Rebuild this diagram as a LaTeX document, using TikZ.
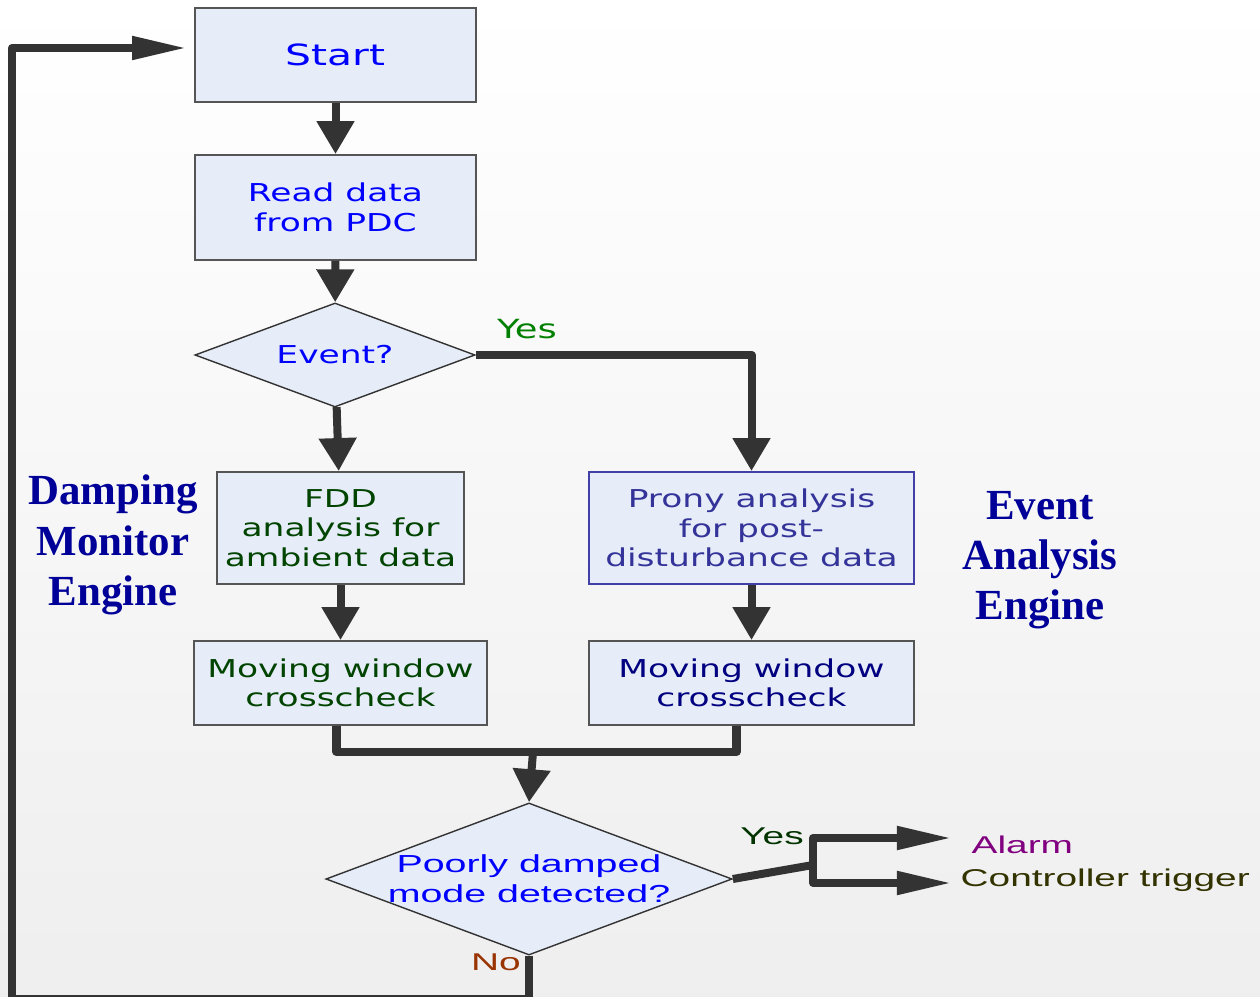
\documentclass[tikz,border=0pt]{standalone}
\usepackage{fontspec}
\usepackage{tikz}
\usetikzlibrary{shapes.geometric,arrows.meta}
\setmainfont{Liberation Serif}
\newfontfamily\wideface[FakeStretch=1.4]{DejaVu Sans}
\newfontfamily\arialface[FakeStretch=1.6]{Liberation Sans}
\definecolor{FlowFill}{HTML}{E6EDF8}
\definecolor{FlowLine}{HTML}{333333}
\definecolor{BoxEdge}{HTML}{555555}
\definecolor{ProEdge}{HTML}{4040A8}
\definecolor{TxtBlue}{HTML}{0000FF}
\definecolor{TxtGreen}{HTML}{004400}
\definecolor{TxtSlate}{HTML}{333399}
\definecolor{TxtNavy}{HTML}{000080}
\definecolor{YesGreen}{HTML}{008000}
\definecolor{YesDark}{HTML}{003300}
\definecolor{NoRust}{HTML}{993300}
\definecolor{AlarmPurple}{HTML}{800080}
\definecolor{TrigOlive}{HTML}{333300}
\definecolor{EngineNavy}{HTML}{000099}

\begin{document}
\begin{tikzpicture}[x=0.01cm,y=-0.01cm,
  box/.style={draw=BoxEdge,fill=FlowFill,line width=0.5pt,align=center,inner sep=0pt,
    font=\wideface\fontsize{7}{8.4}\selectfont},
  decision/.style={diamond,draw=black!80,fill=FlowFill,line width=0.4pt,inner sep=0pt},
  dtext/.style={align=center,inner sep=0pt,text=TxtBlue},
  conn/.style={draw=FlowLine,line width=0.08cm,line join=round},
  down/.style={conn,-{Triangle[width=0.36cm,length=0.33cm]}},
  side/.style={conn,-{Triangle[width=0.22cm,length=0.55cm]}},
  tag/.style={inner sep=0pt,font=\arialface\fontsize{6.9}{8.2}\selectfont},
  engine/.style={align=center,text=EngineNavy,font=\bfseries\fontsize{12.2}{14.3}\selectfont}]
  % background
  \shade[top color=white,middle color=white,bottom color=gray!13] (0,0) rectangle (1260,997);
  \useasboundingbox (0,0) rectangle (1260,997);

  % boxes
  \node[box,minimum width=2.81cm,minimum height=0.94cm,text=TxtBlue,
    font=\wideface\fontsize{8.3}{10}\selectfont] (start) at (335.5,55) {Start};
  \node[box,minimum width=2.81cm,minimum height=1.05cm,text=TxtBlue] (read) at (335.5,207.5) {Read data\\from PDC};
  \node[decision,minimum width=2.8cm,minimum height=1.04cm,
    label={[dtext,font=\wideface\fontsize{7}{8.4}\selectfont]center:Event?}] (event) at (335,355) {};
  \node[box,minimum width=2.47cm,minimum height=1.12cm,text=TxtGreen] (fdd) at (340.5,528) {FDD\\analysis for\\ambient data};
  \node[box,draw=ProEdge,minimum width=3.25cm,minimum height=1.12cm,text=TxtSlate] (prony) at (751.5,528) {Prony analysis\\for post-\\disturbance data};
  \node[box,minimum width=2.93cm,minimum height=0.84cm,text=TxtGreen] (movl) at (340.5,683) {Moving window\\crosscheck};
  \node[box,minimum width=3.25cm,minimum height=0.84cm,text=TxtNavy] (movr) at (751.5,683) {Moving window\\crosscheck};
  \node[decision,minimum width=4.06cm,minimum height=1.52cm,
    label={[dtext,font=\arialface\fontsize{7}{8.5}\selectfont]center:Poorly damped\\mode detected?}] (poor) at (529,879) {};

  % labels
  \node[tag,text=YesGreen,font=\wideface\fontsize{7.5}{9}\selectfont] (yes1) at (527,329) {Yes};
  \node[tag,text=YesDark] (yes2) at (772,836) {Yes};
  \node[tag,text=NoRust] (no) at (496,962) {No};
  \node[tag,text=AlarmPurple,anchor=west] (alarm) at (971,845) {Alarm};
  \node[tag,text=TrigOlive,anchor=west] (trig) at (960,880) {Controller trigger};
  \node[engine] (dme) at (113,545) {Damping\\Monitor\\Engine};
  \node[engine] (eae) at (1040,560) {Event\\Analysis\\Engine};

  % connectors
  \coordinate (join) at (533,752);
  \coordinate (fork) at (813,865);
  \coordinate (loop) at (12,999);
  \draw[down] (start) -- (read);
  \draw[down] (read) -- (event);
  \draw[down] (event) -- (fdd);
  \draw[down] (event.east) -| (prony.north);
  \draw[down] (fdd) -- (movl);
  \draw[down] (prony) -- (movr);
  \draw[conn] ([xshift=-0.04cm]movl.south) |- (join) -| ([xshift=-0.15cm]movr.south);
  \draw[down] (join) -- (poor.north);
  \draw[conn] (poor.east) -- (fork);
  \draw[side] (fork) |- ([xshift=-0.19cm,yshift=0.07cm]alarm.west);
  \draw[side] (fork) |- ([xshift=-0.08cm,yshift=-0.03cm]trig.west);
  \draw[side] (poor.south) |- (loop) |- ([xshift=-0.07cm,yshift=0.07cm]start.west);
\end{tikzpicture}
\end{document}
